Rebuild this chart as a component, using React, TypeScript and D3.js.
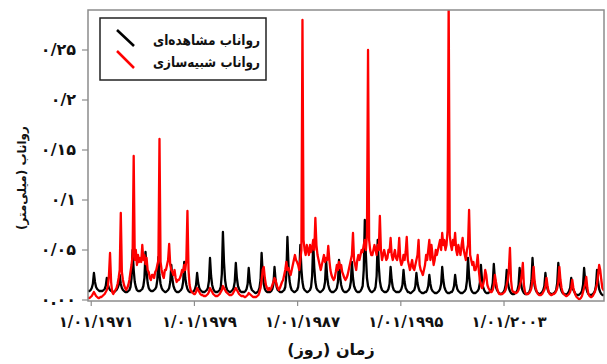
import React from "react";
import * as d3 from "d3";

// Monthly runoff (mm), one row per water year (Oct .. Sep), WY1971 .. WY2010
const observedMonthly: number[][] = [
  [.009,.009,.010,.012,.016,.027,.018,.013,.011,.010,.009,.009],
  [.009,.009,.010,.011,.014,.022,.015,.012,.010,.009,.009,.008],
  [.008,.009,.010,.012,.015,.025,.016,.012,.010,.009,.008,.008],
  [.008,.009,.010,.013,.022,.050,.030,.018,.013,.010,.009,.009],
  [.009,.010,.011,.014,.022,.048,.028,.017,.012,.010,.009,.009],
  [.009,.010,.011,.013,.020,.043,.025,.016,.012,.010,.009,.008],
  [.008,.009,.010,.012,.018,.035,.021,.014,.011,.009,.008,.008],
  [.008,.009,.010,.012,.018,.038,.022,.015,.011,.009,.008,.008],
  [.008,.008,.009,.011,.015,.027,.017,.012,.010,.009,.008,.008],
  [.008,.009,.010,.012,.019,.042,.024,.015,.011,.009,.008,.008],
  [.008,.009,.010,.013,.026,.068,.038,.020,.013,.010,.009,.008],
  [.008,.009,.010,.012,.018,.037,.022,.014,.011,.009,.008,.008],
  [.008,.008,.009,.011,.016,.032,.019,.013,.010,.009,.008,.007],
  [.007,.008,.009,.012,.020,.047,.027,.016,.011,.009,.008,.008],
  [.008,.008,.009,.011,.016,.033,.020,.013,.010,.009,.008,.008],
  [.008,.009,.010,.013,.025,.063,.035,.019,.013,.010,.009,.008],
  [.008,.009,.010,.013,.023,.055,.031,.018,.012,.010,.009,.008],
  [.008,.009,.010,.013,.024,.057,.032,.018,.012,.010,.009,.008],
  [.008,.009,.010,.012,.018,.040,.023,.015,.011,.009,.008,.008],
  [.008,.009,.010,.012,.018,.040,.023,.015,.011,.009,.008,.008],
  [.008,.009,.010,.012,.018,.038,.022,.014,.011,.009,.008,.008],
  [.008,.009,.011,.014,.030,.080,.045,.022,.014,.011,.009,.008],
  [.008,.009,.010,.013,.024,.060,.034,.019,.013,.010,.009,.008],
  [.008,.008,.009,.011,.016,.033,.020,.013,.010,.009,.008,.008],
  [.008,.008,.009,.011,.015,.030,.018,.012,.010,.008,.008,.007],
  [.007,.008,.009,.010,.014,.027,.017,.012,.009,.008,.007,.007],
  [.007,.008,.008,.010,.014,.025,.016,.011,.009,.008,.007,.007],
  [.007,.008,.009,.011,.016,.033,.020,.013,.010,.008,.007,.007],
  [.007,.008,.008,.010,.014,.025,.016,.011,.009,.008,.007,.007],
  [.007,.008,.009,.011,.019,.042,.024,.014,.010,.008,.007,.007],
  [.007,.008,.009,.011,.017,.035,.021,.013,.010,.008,.007,.007],
  [.007,.008,.009,.011,.017,.036,.021,.013,.010,.008,.007,.006],
  [.006,.007,.008,.010,.015,.030,.018,.012,.009,.007,.006,.006],
  [.006,.007,.008,.010,.015,.032,.019,.012,.009,.007,.006,.006],
  [.006,.007,.008,.011,.019,.042,.024,.014,.010,.008,.007,.006],
  [.006,.007,.008,.010,.014,.027,.017,.011,.008,.007,.006,.006],
  [.006,.007,.008,.010,.017,.037,.021,.013,.009,.007,.006,.006],
  [.005,.006,.007,.009,.012,.022,.014,.010,.008,.006,.005,.005],
  [.005,.006,.007,.009,.015,.032,.019,.012,.008,.006,.005,.005],
  [.005,.006,.007,.009,.014,.030,.018,.011,.008,.006,.005,.005],
];

const simulatedMonthly: number[][] = [
  [.002,.002,.003,.004,.006,.008,.006,.004,.003,.002,.002,.003],
  [.003,.004,.005,.006,.008,.010,.014,.025,.047,.018,.008,.006],
  [.008,.010,.012,.016,.022,.030,.087,.028,.020,.015,.012,.010],
  [.012,.015,.020,.028,.035,.045,.144,.040,.050,.035,.045,.038],
  [.042,.038,.055,.040,.045,.036,.042,.030,.028,.022,.020,.025],
  [.025,.022,.028,.030,.035,.040,.161,.038,.030,.025,.022,.030],
  [.030,.035,.040,.056,.035,.030,.028,.025,.030,.022,.018,.020],
  [.020,.022,.025,.030,.028,.035,.030,.040,.089,.030,.015,.010],
  [.008,.007,.006,.006,.008,.012,.010,.008,.006,.005,.005,.004],
  [.004,.004,.005,.006,.008,.012,.010,.008,.006,.005,.004,.004],
  [.004,.005,.006,.008,.010,.014,.012,.010,.008,.007,.006,.005],
  [.005,.005,.006,.008,.010,.012,.010,.008,.006,.005,.004,.004],
  [.004,.003,.003,.004,.005,.007,.006,.005,.004,.003,.003,.003],
  [.003,.004,.005,.008,.012,.020,.030,.033,.022,.015,.012,.010],
  [.012,.010,.012,.015,.018,.022,.020,.015,.012,.010,.012,.015],
  [.018,.020,.025,.030,.038,.030,.032,.028,.025,.030,.035,.040],
  [.045,.040,.038,.035,.030,.040,.050,.280,.060,.050,.045,.055],
  [.050,.045,.055,.048,.052,.060,.050,.082,.055,.045,.040,.035],
  [.030,.035,.040,.045,.038,.042,.040,.054,.040,.030,.025,.022],
  [.020,.022,.028,.035,.030,.038,.032,.035,.028,.025,.022,.020],
  [.022,.025,.030,.035,.040,.045,.067,.040,.035,.030,.040,.045],
  [.040,.045,.050,.048,.055,.060,.050,.065,.250,.060,.050,.045],
  [.045,.050,.055,.050,.045,.055,.050,.084,.050,.040,.045,.050],
  [.045,.040,.042,.050,.048,.062,.045,.040,.045,.050,.042,.040],
  [.045,.062,.040,.035,.038,.045,.040,.048,.063,.040,.035,.030],
  [.035,.040,.032,.030,.035,.040,.045,.060,.035,.030,.028,.025],
  [.030,.035,.045,.040,.050,.060,.040,.055,.045,.035,.040,.050],
  [.045,.050,.055,.060,.050,.067,.055,.060,.050,.055,.070,.300],
  [.065,.055,.050,.060,.055,.067,.050,.045,.055,.050,.045,.055],
  [.062,.050,.045,.040,.050,.055,.090,.045,.040,.035,.038,.030],
  [.030,.035,.045,.030,.020,.015,.012,.015,.020,.030,.025,.015],
  [.012,.010,.008,.008,.010,.015,.025,.018,.012,.008,.006,.006],
  [.006,.006,.007,.008,.010,.015,.020,.030,.052,.020,.010,.008],
  [.008,.007,.007,.008,.010,.014,.018,.025,.037,.015,.008,.006],
  [.006,.006,.007,.009,.012,.020,.033,.018,.012,.008,.006,.005],
  [.005,.005,.006,.008,.010,.014,.022,.014,.008,.006,.005,.005],
  [.006,.006,.007,.009,.012,.018,.033,.020,.012,.008,.006,.005],
  [.004,.004,.005,.006,.008,.012,.020,.012,.008,.005,.003,.002],
  [.001,.001,.002,.004,.008,.012,.016,.023,.012,.006,.004,.003],
  [.003,.004,.006,.008,.012,.016,.025,.035,.030,.020,.012,.010],
];

const firstWaterYearStart = 1970.75; // October 1970
const lastWaterYearEnd = 2010.75;

const yTickValues = [0, 0.05, 0.1, 0.15, 0.2, 0.25];
const yTickLabels = ["۰.۰۰", "۰/۰۵", "۰/۱", "۰/۱۵", "۰/۲", "۰/۲۵"];
const xTickYears = [1971, 1979, 1987, 1995, 2003];
const xTickLabels = ["۱/۰۱/۱۹۷۱", "۱/۰۱/۱۹۷۹", "۱/۰۱/۱۹۸۷", "۱/۰۱/۱۹۹۵", "۱/۰۱/۲۰۰۳"];

const legendLabels = ["رواناب مشاهده‌ای", "رواناب شبیه‌سازی"];
const xTitle = "زمان (روز)";
const yTitle = "رواناب (میلی‌متر)";

type Pt = { t: number; v: number };

function toSeries(rows: number[][]): Pt[] {
  const out: Pt[] = [];
  rows.forEach((row, yi) =>
    row.forEach((v, mi) => out.push({ t: firstWaterYearStart + yi + (mi + 0.5) / 12, v }))
  );
  return out;
}

const W = 607;
const H = 364;
const plot = { left: 88, right: 604, top: 10, bottom: 301 };
const FONT = "'DejaVu Sans', sans-serif";

export default function App() {
  const x = d3.scaleLinear().domain([firstWaterYearStart, lastWaterYearEnd]).range([plot.left, plot.right]);
  const y = d3.scaleLinear().domain([0, 0.29]).range([300, plot.top]);

  const line = d3
    .line<Pt>()
    .x((d) => x(d.t))
    .y((d) => y(d.v));

  const obs = toSeries(observedMonthly);
  const sim = toSeries(simulatedMonthly);
  const frameColor = "#8c8c8c";

  return (
    <div style={{ position: "fixed", left: 0, top: 0, background: "#fff" }}>
      <svg width={W} height={H} viewBox={`0 0 ${W} ${H}`} style={{ display: "block" }}>
        <rect width={W} height={H} fill="#fff" />
        <defs>
          <clipPath id="plotArea">
            <rect x={plot.left} y={plot.top} width={plot.right - plot.left} height={plot.bottom - plot.top} />
          </clipPath>
        </defs>

        <g clipPath="url(#plotArea)" fill="none" strokeLinejoin="round" strokeLinecap="round">
          <path d={line(obs) ?? ""} stroke="#000" strokeWidth={2.3} />
          <path d={line(sim) ?? ""} stroke="#ff0000" strokeWidth={2.3} />
        </g>

        <rect
          x={plot.left}
          y={plot.top}
          width={plot.right - plot.left}
          height={plot.bottom - plot.top}
          fill="none"
          stroke={frameColor}
          strokeWidth={1.5}
        />

        {yTickValues.map((v, i) => (
          <g key={"y" + i}>
            <line x1={plot.left - 6} x2={plot.left} y1={y(v)} y2={y(v)} stroke={frameColor} strokeWidth={1.2} />
            <text
              x={plot.left - 12}
              y={y(v) + 5}
              textAnchor="end"
              fontFamily={FONT}
              fontWeight="bold"
              fontSize={16}
              fill="#111"
            >
              {yTickLabels[i]}
            </text>
          </g>
        ))}

        {xTickYears.map((yr, i) => (
          <g key={"x" + i}>
            <line x1={x(yr)} x2={x(yr)} y1={plot.bottom} y2={plot.bottom + 5} stroke={frameColor} strokeWidth={1.2} />
            <text
              x={x(yr) + 5}
              y={327}
              textAnchor="middle"
              fontFamily={FONT}
              fontWeight="bold"
              fontSize={15}
              fill="#111"
            >
              {xTickLabels[i]}
            </text>
          </g>
        ))}

        <text
          x={331}
          y={355}
          textAnchor="middle"
          direction="rtl"
          fontFamily={FONT}
          fontWeight="bold"
          fontSize={16}
          fill="#111"
        >
          {xTitle}
        </text>

        <text
          transform={`translate(26,178) rotate(-90)`}
          textAnchor="middle"
          direction="rtl"
          fontFamily={FONT}
          fontWeight="bold"
          fontSize={12}
          fill="#111"
        >
          {yTitle}
        </text>

        <g>
          <rect x={100} y={18} width={166} height={62} fill="#fff" stroke="#222" strokeWidth={1.5} />
          <line x1={117} y1={30} x2={134} y2={46} stroke="#000" strokeWidth={2.5} />
          <line x1={117} y1={51} x2={134} y2={68} stroke="#ff0000" strokeWidth={2.5} />
          <text
            x={260}
            y={45}
            textAnchor="end"
            fontFamily={FONT}
            fontWeight="bold"
            fontSize={14}
            textLength={107}
            lengthAdjust="spacingAndGlyphs"
            fill="#111"
          >
            {legendLabels[0]}
          </text>
          <text
            x={260}
            y={67}
            textAnchor="end"
            fontFamily={FONT}
            fontWeight="bold"
            fontSize={14}
            textLength={107}
            lengthAdjust="spacingAndGlyphs"
            fill="#111"
          >
            {legendLabels[1]}
          </text>
        </g>
      </svg>
    </div>
  );
}
